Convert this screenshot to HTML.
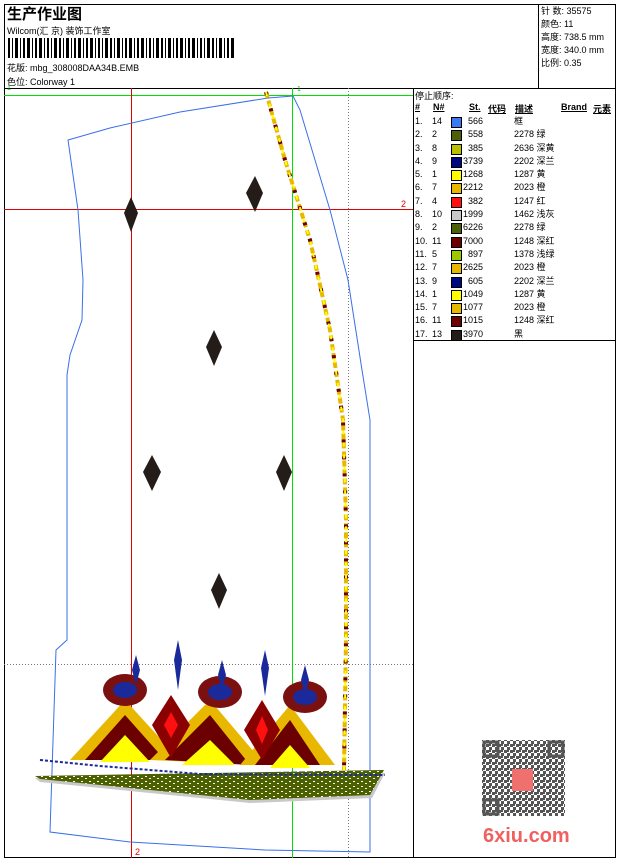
<!DOCTYPE html>
<html><head><meta charset="utf-8">
<style>
body{margin:0;background:#fff;width:620px;height:860px;overflow:hidden;font-family:"Liberation Sans","WenQuanYi Zen Hei","Noto Sans CJK SC",sans-serif;}
.t{position:absolute;font-size:9px;color:#000;white-space:nowrap;}
.lg span{white-space:nowrap;}
</style></head><body>
<div style="position:absolute;left:0;top:0;width:620px;height:860px;">
<svg width="620" height="860" style="position:absolute;left:0;top:0">
<defs>
<pattern id="qr" width="6" height="6" patternUnits="userSpaceOnUse">
<rect width="6" height="6" fill="#fff"/><rect x="0" y="0" width="3" height="3" fill="#555"/><rect x="3" y="3" width="3" height="3" fill="#555"/><rect x="3" y="0" width="2" height="2" fill="#555"/>
</pattern>
<pattern id="grn" width="8" height="5" patternUnits="userSpaceOnUse">
<rect width="8" height="5" fill="#4e5f00"/><rect x="1" y="1" width="2" height="1" fill="#fff"/><rect x="5" y="3" width="2" height="1" fill="#cfd"/>
</pattern>
</defs>
<rect x="4.5" y="4.5" width="611" height="853" fill="none" stroke="#000"/>
<line x1="4" y1="88.5" x2="616" y2="88.5" stroke="#000"/>
<line x1="538.5" y1="4" x2="538.5" y2="88" stroke="#000"/>
<line x1="413.5" y1="88" x2="413.5" y2="858" stroke="#000"/>
<line x1="413" y1="340.5" x2="616" y2="340.5" stroke="#000"/>
<g fill="#000">
<rect x="8" y="38" width="2" height="20"/><rect x="12" y="38" width="1" height="20"/><rect x="15" y="38" width="3" height="20"/><rect x="20" y="38" width="1" height="20"/><rect x="23" y="38" width="2" height="20"/><rect x="27" y="38" width="3" height="20"/><rect x="32" y="38" width="1" height="20"/><rect x="35" y="38" width="2" height="20"/><rect x="39" y="38" width="3" height="20"/><rect x="44" y="38" width="1" height="20"/><rect x="47" y="38" width="2" height="20"/><rect x="51" y="38" width="1" height="20"/><rect x="54" y="38" width="3" height="20"/><rect x="59" y="38" width="2" height="20"/><rect x="63" y="38" width="1" height="20"/><rect x="66" y="38" width="3" height="20"/><rect x="71" y="38" width="1" height="20"/><rect x="74" y="38" width="2" height="20"/><rect x="78" y="38" width="3" height="20"/><rect x="83" y="38" width="1" height="20"/><rect x="86" y="38" width="2" height="20"/><rect x="90" y="38" width="3" height="20"/><rect x="95" y="38" width="1" height="20"/><rect x="98" y="38" width="2" height="20"/><rect x="102" y="38" width="1" height="20"/><rect x="105" y="38" width="3" height="20"/><rect x="110" y="38" width="2" height="20"/><rect x="114" y="38" width="1" height="20"/><rect x="117" y="38" width="3" height="20"/><rect x="122" y="38" width="1" height="20"/><rect x="125" y="38" width="2" height="20"/><rect x="129" y="38" width="3" height="20"/><rect x="134" y="38" width="1" height="20"/><rect x="137" y="38" width="2" height="20"/><rect x="141" y="38" width="3" height="20"/><rect x="146" y="38" width="1" height="20"/><rect x="149" y="38" width="2" height="20"/><rect x="153" y="38" width="1" height="20"/><rect x="156" y="38" width="3" height="20"/><rect x="161" y="38" width="2" height="20"/><rect x="165" y="38" width="1" height="20"/><rect x="168" y="38" width="3" height="20"/><rect x="173" y="38" width="1" height="20"/><rect x="176" y="38" width="2" height="20"/><rect x="180" y="38" width="3" height="20"/><rect x="185" y="38" width="1" height="20"/><rect x="188" y="38" width="2" height="20"/><rect x="192" y="38" width="3" height="20"/><rect x="197" y="38" width="1" height="20"/><rect x="200" y="38" width="2" height="20"/><rect x="204" y="38" width="1" height="20"/><rect x="207" y="38" width="3" height="20"/><rect x="212" y="38" width="2" height="20"/><rect x="216" y="38" width="1" height="20"/><rect x="219" y="38" width="3" height="20"/><rect x="224" y="38" width="1" height="20"/><rect x="227" y="38" width="2" height="20"/><rect x="231" y="38" width="3" height="20"/>
</g>
<line x1="4" y1="95.5" x2="413" y2="95.5" stroke="#00e000"/>
<line x1="4" y1="209.5" x2="413" y2="209.5" stroke="#e00000"/>
<line x1="131.5" y1="88" x2="131.5" y2="858" stroke="#e00000"/>
<line x1="292.5" y1="88" x2="292.5" y2="858" stroke="#00e000"/>
<line x1="348.5" y1="88" x2="348.5" y2="858" stroke="#777" stroke-dasharray="1,2"/>
<line x1="4" y1="664.5" x2="413" y2="664.5" stroke="#777" stroke-dasharray="1,2"/>
<polyline fill="none" stroke="#3a6fe8" stroke-width="1" points="293,96 268,98 180,112 110,128 68,140 78,210 83,280 82,320 70,355 67,375 67,640 56,650 50,832 130,842 265,850 370,852 370,420 362,370 348,280 330,210 300,110 293,96"/>
<polyline fill="none" stroke="#e8b800" stroke-width="4" stroke-dasharray="6,3" points="266,92 285,160 310,240 330,330 343,420 346,520 346,640 344,770"/>
<polyline fill="none" stroke="#6b0000" stroke-width="4" stroke-dasharray="3,14" points="266,92 285,160 310,240 330,330 343,420 346,520 346,640 344,770"/>
<polyline fill="none" stroke="#ffff00" stroke-width="2" stroke-dasharray="4,8" points="266,92 285,160 310,240 330,330 343,420 346,520 346,640 344,770"/>
<g fill="#231c18">
<path d="M131,197 L138,213 L131,232 L124,213Z"/>
<path d="M255,176 L263,193 L255,212 L246,193Z"/>
<path d="M214,330 L222,347 L214,366 L206,347Z"/>
<path d="M152,455 L161,472 L152,491 L143,472Z"/>
<path d="M284,455 L292,472 L284,491 L276,472Z"/>
<path d="M219,573 L227,590 L219,609 L211,590Z"/>
</g>
<polygon points="35,778 385,773 372,798 250,803 150,793 40,782" fill="#c8c8c8"/>
<polygon points="35,776 384,770 370,795 250,800 150,790 40,779" fill="url(#grn)"/>
<polyline points="40,760 100,766 200,774 385,775" fill="none" stroke="#1a2a9a" stroke-width="2" stroke-dasharray="3,2"/>
<g>
<polygon points="70,760 125,700 180,760" fill="#e8b800"/>
<polygon points="85,760 125,715 165,760" fill="#6b0000"/>
<polygon points="100,762 125,735 150,762" fill="#ffff00"/>
<polygon points="150,760 210,700 265,765" fill="#e8b800"/>
<polygon points="165,760 210,715 250,765" fill="#6b0000"/>
<polygon points="182,765 210,740 235,765" fill="#ffff00"/>
<polygon points="240,765 290,705 335,765" fill="#e8b800"/>
<polygon points="255,765 290,720 320,765" fill="#6b0000"/>
<polygon points="270,768 290,745 310,768" fill="#ffff00"/>
<polygon points="171,695 190,725 171,758 152,725" fill="#8b0000"/>
<polygon points="171,712 178,725 171,738 164,725" fill="#ff1010"/>
<polygon points="262,700 280,730 262,760 244,730" fill="#8b0000"/>
<polygon points="262,716 268,730 262,744 256,730" fill="#ff1010"/>
<ellipse cx="125" cy="690" rx="22" ry="16" fill="#7a1010"/>
<ellipse cx="125" cy="690" rx="12" ry="8" fill="#1a2a9a"/>
<ellipse cx="220" cy="692" rx="22" ry="16" fill="#7a1010"/>
<ellipse cx="220" cy="692" rx="12" ry="8" fill="#1a2a9a"/>
<ellipse cx="305" cy="697" rx="22" ry="16" fill="#7a1010"/>
<ellipse cx="305" cy="697" rx="12" ry="8" fill="#1a2a9a"/>
<path d="M178,640 L182,660 L178,690 L174,660Z" fill="#1a2a9a"/>
<path d="M265,650 L269,668 L265,696 L261,668Z" fill="#1a2a9a"/>
<path d="M136,655 L140,670 L136,685 L132,670Z" fill="#1a2a9a"/>
<path d="M222,660 L226,675 L222,690 L218,675Z" fill="#1a2a9a"/>
<path d="M305,665 L309,680 L305,695 L301,680Z" fill="#1a2a9a"/>
</g>
<rect x="482" y="740" width="83" height="76" fill="url(#qr)"/>
<g fill="none" stroke="#555" stroke-width="3"><rect x="484" y="742" width="14" height="14"/><rect x="549" y="742" width="14" height="14"/><rect x="484" y="800" width="14" height="14"/></g>
<rect x="512" y="769" width="21" height="22" fill="#f07070"/>
</svg>
<div class="t" style="left:7px;top:3px;font-size:15px;font-weight:bold;">生产作业图</div>
<div class="t" style="left:7px;top:24px;">Wilcom(汇 京) 装饰工作室</div>
<div class="t" style="left:7px;top:61px;">花版: mbg_308008DAA34B.EMB</div>
<div class="t" style="left:7px;top:75px;">色位: Colorway 1</div>
<div class="t" style="left:541px;top:5px;line-height:13px;">针 数: 35575<br>颜色: 11<br>高度: 738.5 mm<br>宽度: 340.0 mm<br>比例: 0.35</div>
<div class="t" style="left:7px;top:85px;font-size:7px;color:#00c000">1</div>
<div class="t" style="left:297px;top:86px;font-size:7px;color:#00c000">1</div>
<div class="t" style="left:401px;top:199px;font-size:9px;color:#e00000">2</div>
<div class="t" style="left:135px;top:847px;font-size:9px;color:#e00000">2</div>
<div class="t" style="left:483px;top:825px;font-size:20px;font-weight:bold;color:#f06060">6xiu.com</div>
<div class="t" style="left:415px;top:89px;">停止顺序:</div>
<div class="t" style="left:415px;top:102px;font-weight:bold;text-decoration:underline">#</div>
<div class="t" style="left:433px;top:102px;font-weight:bold;text-decoration:underline">N#</div>
<div class="t" style="left:469px;top:102px;font-weight:bold;text-decoration:underline">St.</div>
<div class="t" style="left:488px;top:102px;font-weight:bold;text-decoration:underline">代码</div>
<div class="t" style="left:515px;top:102px;font-weight:bold;text-decoration:underline">描述</div>
<div class="t" style="left:561px;top:102px;font-weight:bold;text-decoration:underline">Brand</div>
<div class="t" style="left:593px;top:102px;font-weight:bold;text-decoration:underline">元素</div>
<div class="lg" style="position:absolute;left:415px;top:115px;width:200px;font-size:9px;line-height:13.3px;">
<div style="position:relative;height:13.3px"><span style="position:absolute;left:0">1.</span><span style="position:absolute;left:17px">14</span><span style="position:absolute;left:36px;top:2px;width:9px;height:9px;background:#3c78f0;border:1px solid #000"></span><span style="position:absolute;left:48px;width:20px;text-align:right">566</span><span style="position:absolute;left:99px">框</span></div>
<div style="position:relative;height:13.3px"><span style="position:absolute;left:0">2.</span><span style="position:absolute;left:17px">2</span><span style="position:absolute;left:36px;top:2px;width:9px;height:9px;background:#4e5f0a;border:1px solid #000"></span><span style="position:absolute;left:48px;width:20px;text-align:right">558</span><span style="position:absolute;left:99px">2278 绿</span></div>
<div style="position:relative;height:13.3px"><span style="position:absolute;left:0">3.</span><span style="position:absolute;left:17px">8</span><span style="position:absolute;left:36px;top:2px;width:9px;height:9px;background:#b8c000;border:1px solid #000"></span><span style="position:absolute;left:48px;width:20px;text-align:right">385</span><span style="position:absolute;left:99px">2636 深黄</span></div>
<div style="position:relative;height:13.3px"><span style="position:absolute;left:0">4.</span><span style="position:absolute;left:17px">9</span><span style="position:absolute;left:36px;top:2px;width:9px;height:9px;background:#000a80;border:1px solid #000"></span><span style="position:absolute;left:48px;width:20px;text-align:right">3739</span><span style="position:absolute;left:99px">2202 深兰</span></div>
<div style="position:relative;height:13.3px"><span style="position:absolute;left:0">5.</span><span style="position:absolute;left:17px">1</span><span style="position:absolute;left:36px;top:2px;width:9px;height:9px;background:#ffff00;border:1px solid #000"></span><span style="position:absolute;left:48px;width:20px;text-align:right">1268</span><span style="position:absolute;left:99px">1287 黄</span></div>
<div style="position:relative;height:13.3px"><span style="position:absolute;left:0">6.</span><span style="position:absolute;left:17px">7</span><span style="position:absolute;left:36px;top:2px;width:9px;height:9px;background:#e8b800;border:1px solid #000"></span><span style="position:absolute;left:48px;width:20px;text-align:right">2212</span><span style="position:absolute;left:99px">2023 橙</span></div>
<div style="position:relative;height:13.3px"><span style="position:absolute;left:0">7.</span><span style="position:absolute;left:17px">4</span><span style="position:absolute;left:36px;top:2px;width:9px;height:9px;background:#ff1010;border:1px solid #000"></span><span style="position:absolute;left:48px;width:20px;text-align:right">382</span><span style="position:absolute;left:99px">1247 红</span></div>
<div style="position:relative;height:13.3px"><span style="position:absolute;left:0">8.</span><span style="position:absolute;left:17px">10</span><span style="position:absolute;left:36px;top:2px;width:9px;height:9px;background:#c8c8c8;border:1px solid #000"></span><span style="position:absolute;left:48px;width:20px;text-align:right">1999</span><span style="position:absolute;left:99px">1462 浅灰</span></div>
<div style="position:relative;height:13.3px"><span style="position:absolute;left:0">9.</span><span style="position:absolute;left:17px">2</span><span style="position:absolute;left:36px;top:2px;width:9px;height:9px;background:#4e5f0a;border:1px solid #000"></span><span style="position:absolute;left:48px;width:20px;text-align:right">6226</span><span style="position:absolute;left:99px">2278 绿</span></div>
<div style="position:relative;height:13.3px"><span style="position:absolute;left:0">10.</span><span style="position:absolute;left:17px">11</span><span style="position:absolute;left:36px;top:2px;width:9px;height:9px;background:#6b0000;border:1px solid #000"></span><span style="position:absolute;left:48px;width:20px;text-align:right">7000</span><span style="position:absolute;left:99px">1248 深红</span></div>
<div style="position:relative;height:13.3px"><span style="position:absolute;left:0">11.</span><span style="position:absolute;left:17px">5</span><span style="position:absolute;left:36px;top:2px;width:9px;height:9px;background:#9cc800;border:1px solid #000"></span><span style="position:absolute;left:48px;width:20px;text-align:right">897</span><span style="position:absolute;left:99px">1378 浅绿</span></div>
<div style="position:relative;height:13.3px"><span style="position:absolute;left:0">12.</span><span style="position:absolute;left:17px">7</span><span style="position:absolute;left:36px;top:2px;width:9px;height:9px;background:#e8b800;border:1px solid #000"></span><span style="position:absolute;left:48px;width:20px;text-align:right">2625</span><span style="position:absolute;left:99px">2023 橙</span></div>
<div style="position:relative;height:13.3px"><span style="position:absolute;left:0">13.</span><span style="position:absolute;left:17px">9</span><span style="position:absolute;left:36px;top:2px;width:9px;height:9px;background:#000a80;border:1px solid #000"></span><span style="position:absolute;left:48px;width:20px;text-align:right">605</span><span style="position:absolute;left:99px">2202 深兰</span></div>
<div style="position:relative;height:13.3px"><span style="position:absolute;left:0">14.</span><span style="position:absolute;left:17px">1</span><span style="position:absolute;left:36px;top:2px;width:9px;height:9px;background:#ffff00;border:1px solid #000"></span><span style="position:absolute;left:48px;width:20px;text-align:right">1049</span><span style="position:absolute;left:99px">1287 黄</span></div>
<div style="position:relative;height:13.3px"><span style="position:absolute;left:0">15.</span><span style="position:absolute;left:17px">7</span><span style="position:absolute;left:36px;top:2px;width:9px;height:9px;background:#e8b800;border:1px solid #000"></span><span style="position:absolute;left:48px;width:20px;text-align:right">1077</span><span style="position:absolute;left:99px">2023 橙</span></div>
<div style="position:relative;height:13.3px"><span style="position:absolute;left:0">16.</span><span style="position:absolute;left:17px">11</span><span style="position:absolute;left:36px;top:2px;width:9px;height:9px;background:#6b0000;border:1px solid #000"></span><span style="position:absolute;left:48px;width:20px;text-align:right">1015</span><span style="position:absolute;left:99px">1248 深红</span></div>
<div style="position:relative;height:13.3px"><span style="position:absolute;left:0">17.</span><span style="position:absolute;left:17px">13</span><span style="position:absolute;left:36px;top:2px;width:9px;height:9px;background:#231c18;border:1px solid #000"></span><span style="position:absolute;left:48px;width:20px;text-align:right">3970</span><span style="position:absolute;left:99px">黑</span></div>
</div>
</div>
</body></html>
